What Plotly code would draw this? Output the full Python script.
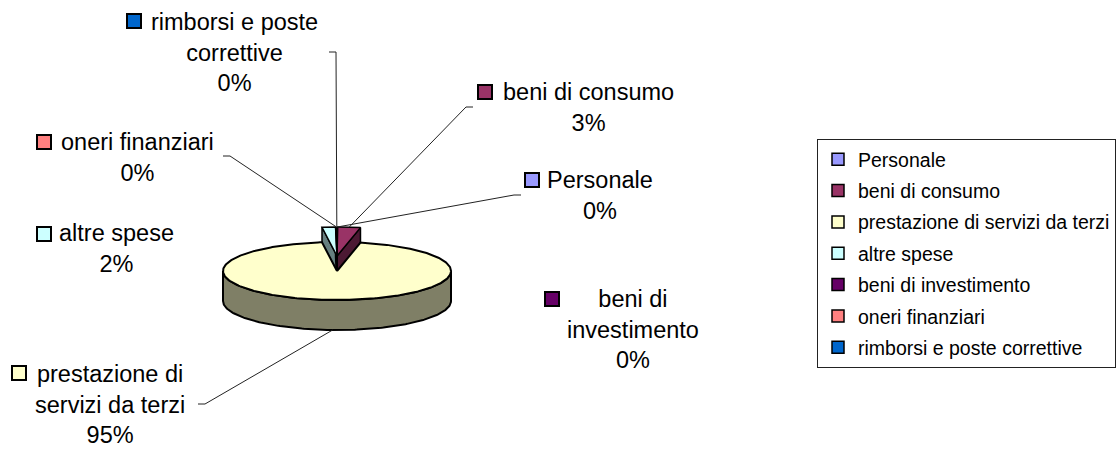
import numpy as np
import plotly.graph_objects as go

# ---------------- data ----------------
categories = ["Personale", "beni di consumo", "prestazione di servizi da terzi",
              "altre spese", "beni di investimento", "oneri finanziari",
              "rimborsi e poste correttive"]
values = [0.1, 3.2, 94.6, 1.9, 0.1, 0.05, 0.05]

# ---------------- style ----------------
colors = ["#9999FF", "#993366", "#FFFFCC", "#CCFFFF", "#660066", "#FF8080", "#0066CC"]
exploded = [True, True, False, True, True, True, True]
FONT = "Liberation Sans, Arial, sans-serif"

# wrapped label text (presentation of category names)
label_names = ["Personale", "beni di consumo", "prestazione di<br>servizi da terzi",
               "altre spese", "beni di<br>investimento", "oneri finanziari",
               "rimborsi e poste<br>correttive"]
# label block centre (x, y) in pixels
label_pos = [(600, 195), (588, 107.5), (110, 404), (116, 248), (633, 329), (137, 157.5), (234, 52)]
# key square top-left corner
key_pos = [(525, 173), (478, 85), (12, 366), (37, 227), (545, 292), (37, 135), (127, 14)]
KEY = 14
# leader line anchor at the label side (None = no leader line)
leader_anchor = [(521, 195), (473, 107), (198, 404), None, None, (223, 156), (329, 52)]

# pie geometry (pixels)
CX, CY, RX, RY, DEPTH, EXPLODE = 337, 271, 114, 29, 30, 15


def darker(hexc, f=0.5):
    h = hexc.lstrip("#")
    r, g, b = (int(h[i:i + 2], 16) for i in (0, 2, 4))
    return "#%02X%02X%02X" % (int(r * f), int(g * f), int(b * f))


def arc(t0, t1, dy=0.0, step=1.0):
    n = max(2, int(np.ceil(abs(t1 - t0) / step)) + 1)
    ts = np.radians(np.linspace(t0, t1, n))
    return list(CX + RX * np.sin(ts)), list(CY - RY * np.cos(ts) + dy)


def pt(t, dy=0.0):
    r = np.radians(t)
    return CX + RX * np.sin(r), CY - RY * np.cos(r) + dy


def poly(xs, ys, fill, width=2):
    xs = list(xs) + [xs[0]]
    ys = list(ys) + [ys[0]]
    return go.Scatter(x=xs, y=ys, mode="lines", fill="toself", fillcolor=fill,
                      line=dict(color="black", width=width), hoverinfo="skip",
                      showlegend=False)


total = float(sum(values))
cum = np.concatenate([[0.0], np.cumsum(values)]) / total * 360.0
starts, ends = cum[:-1], cum[1:]
mids = (starts + ends) / 2
pcts = ["%d%%" % round(v / total * 100) for v in values]

fig = go.Figure()

# 1) front side of the non-exploded (big) slices
for i in range(len(values)):
    if exploded[i]:
        continue
    a = max(starts[i], 90.0)
    b = min(ends[i], 270.0)
    if b <= a:
        continue
    tx, ty = arc(a, b)
    bx, by = arc(b, a, dy=DEPTH)
    fig.add_trace(poly(tx + bx, ty + by, darker(colors[i])))

# 2) exploded slices: visible radial walls, then top faces
for i in range(len(values)):
    if not exploded[i]:
        continue
    dy = -EXPLODE
    t = ends[i] if mids[i] < 180 else starts[i]
    rx_, ry_ = pt(t, dy)
    xs = [CX, rx_, rx_, CX]
    ys = [CY + dy, ry_, ry_ + DEPTH, CY + dy + DEPTH]
    fig.add_trace(poly(xs, ys, darker(colors[i]), width=1.5))
for i in range(len(values)):
    if not exploded[i]:
        continue
    dy = -EXPLODE
    ax, ay = arc(starts[i], ends[i], dy=dy, step=0.5)
    fig.add_trace(poly([CX] + ax, [CY + dy] + ay, colors[i], width=1.5))

# 3) top faces of non-exploded slices
for i in range(len(values)):
    if exploded[i]:
        continue
    ax, ay = arc(starts[i], ends[i])
    fig.add_trace(poly([CX] + ax, [CY] + ay, colors[i]))

# leader lines
for i in range(len(values)):
    anc = leader_anchor[i]
    if anc is None:
        continue
    if exploded[i]:
        sx, sy = pt(mids[i], -EXPLODE)
    else:
        sx, sy = pt(mids[i], DEPTH)
    elbow_x = anc[0] + (7 if sx > anc[0] else -7)
    fig.add_trace(go.Scatter(x=[anc[0], elbow_x, sx], y=[anc[1], anc[1], sy],
                             mode="lines", line=dict(color="#222222", width=1),
                             hoverinfo="skip", showlegend=False))

# data labels with key squares
for i in range(len(values)):
    lx, ly = label_pos[i]
    fig.add_annotation(x=lx, y=ly, xref="x", yref="y",
                       text=label_names[i] + "<br>" + pcts[i],
                       showarrow=False, xanchor="center", yanchor="middle",
                       align="center", borderpad=0,
                       font=dict(family=FONT, size=23.5, color="black"))
    kx, ky = key_pos[i]
    fig.add_shape(type="rect", xref="x", yref="y", x0=kx, y0=ky, x1=kx + KEY, y1=ky + KEY,
                  fillcolor=colors[i], line=dict(color="black", width=2))

# legend entries
for i, name in enumerate(categories):
    fig.add_trace(go.Scatter(x=[None], y=[None], mode="markers", name=name,
                             legendgroup="g%d" % i,
                             marker=dict(symbol="square", size=12, color=colors[i],
                                         line=dict(color="black", width=1.5)),
                             showlegend=True))

fig.update_layout(
    width=1119, height=451,
    margin=dict(l=0, r=0, t=0, b=0),
    paper_bgcolor="white", plot_bgcolor="white",
    xaxis=dict(range=[0, 1119], visible=False, fixedrange=True),
    yaxis=dict(range=[451, 0], visible=False, fixedrange=True),
    showlegend=True,
    legend=dict(x=817 / 1119, y=1 - 139 / 451, xanchor="left", yanchor="top",
                font=dict(family=FONT, size=19.5, color="black"),
                bordercolor="#222222", borderwidth=1, bgcolor="white",
                tracegroupgap=3, itemclick=False, itemdoubleclick=False),
    hovermode=False,
)

fig.write_html("out.html", config={"displayModeBar": False, "staticPlot": True},
               post_script="document.body.style.margin='0';document.body.style.overflow='hidden';")
